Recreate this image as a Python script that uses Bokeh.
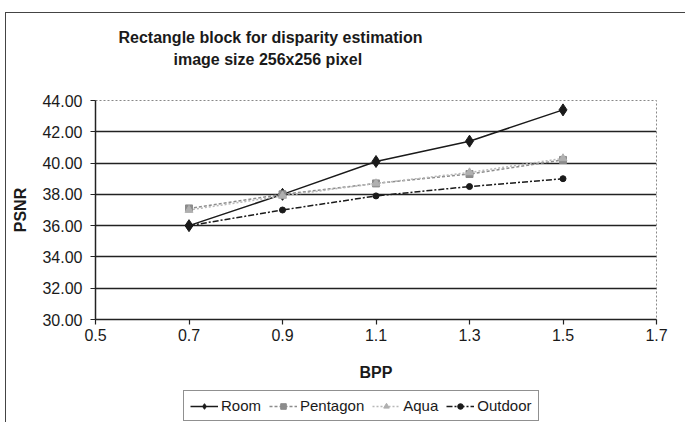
from bokeh.plotting import figure
from bokeh.layouts import column
from bokeh.models import Range1d, FixedTicker, Legend, LegendItem, NumeralTickFormatter, Title
from bokeh.embed import file_html
from bokeh.resources import INLINE

# ---- data ----
bpp = [0.7, 0.9, 1.1, 1.3, 1.5]
room = [36.0, 38.0, 40.1, 41.4, 43.4]
pentagon = [37.1, 38.0, 38.7, 39.3, 40.2]
aqua = [37.0, 37.9, 38.7, 39.4, 40.3]
outdoor = [36.0, 37.0, 37.9, 38.5, 39.0]
series_names = ["Room", "Pentagon", "Aqua", "Outdoor"]
x_ticks = [0.5, 0.7, 0.9, 1.1, 1.3, 1.5, 1.7]
y_ticks = [30, 32, 34, 36, 38, 40, 42, 44]
title_lines = ["Rectangle block for disparity estimation", "image size 256x256 pixel"]

FONT = "Liberation Sans"
INK = "#1a1a1a"

styles = [
    dict(line=dict(line_color=INK, line_width=1.5),
         mark=dict(marker="diamond", size=12, color=INK)),
    dict(line=dict(line_color="#8c8c8c", line_width=1.5, line_dash="3 2"),
         mark=dict(marker="square", size=7, color="#8c8c8c")),
    dict(line=dict(line_color="#b8b8b8", line_width=1.5, line_dash="2 2"),
         mark=dict(marker="triangle", size=8, color="#b0b0b0")),
    dict(line=dict(line_color=INK, line_width=1.5, line_dash="6 2 2 2"),
         mark=dict(marker="circle", size=6, color=INK)),
]
all_series = [room, pentagon, aqua, outdoor]

# ---- main chart ----
p = figure(width=685, height=389, output_backend="svg", toolbar_location=None,
           x_range=Range1d(0.5, 1.7), y_range=Range1d(30, 44),
           min_border_left=95, min_border_right=29, min_border_top=100, min_border_bottom=70)
p.title = None
p.background_fill_color = "white"
p.border_fill_alpha = 0
p.outline_line_color = "#888888"
p.outline_line_dash = "2 2"
p.outline_line_width = 1

p.xaxis.ticker = FixedTicker(ticks=x_ticks)
p.yaxis.ticker = FixedTicker(ticks=y_ticks)
p.yaxis.formatter = NumeralTickFormatter(format="0.00")
for ax in (p.xaxis, p.yaxis):
    ax.axis_line_color = "#222222"
    ax.axis_line_width = 1.5
    ax.major_tick_line_color = "#222222"
    ax.major_tick_line_width = 1.2
    ax.major_tick_in = 0
    ax.major_tick_out = 5
    ax.minor_tick_line_color = None
    ax.major_label_text_font = FONT
    ax.major_label_text_font_size = "16px"
    ax.major_label_text_color = INK
    ax.axis_label_text_font = FONT
    ax.axis_label_text_font_size = "16px"
    ax.axis_label_text_font_style = "bold"
    ax.axis_label_text_color = INK
p.yaxis.major_label_standoff = 8
p.xaxis.major_label_standoff = 4
p.yaxis.axis_label = "PSNR"
p.xaxis.axis_label = "BPP"
p.yaxis.axis_label_standoff = 10
p.xaxis.axis_label_standoff = 20

p.xgrid.grid_line_color = None
p.ygrid.ticker = FixedTicker(ticks=y_ticks[1:-1])
p.ygrid.grid_line_color = "#222222"
p.ygrid.grid_line_width = 1.5

for vals, st in zip(all_series, styles):
    p.line(bpp, vals, **st["line"])
    p.scatter(bpp, vals, **st["mark"])

# title: spacer nearest the frame, then the two lines
spacer = Title(text=" ", text_font_size="1px", standoff=28)
t2 = Title(text=title_lines[1], align="left", offset=78, standoff=4,
           text_font=FONT, text_font_size="16px", text_font_style="bold", text_color=INK)
t1 = Title(text=title_lines[0], align="left", offset=23, standoff=1,
           text_font=FONT, text_font_size="16px", text_font_style="bold", text_color=INK)
p.add_layout(spacer, "above")
p.add_layout(t2, "above")
p.add_layout(t1, "above")

# ---- legend strip under the chart (series drawn off-range, only the legend shows) ----
lg = figure(width=685, height=33, output_backend="svg", toolbar_location=None,
            x_axis_type=None, y_axis_type=None, min_border=0,
            x_range=Range1d(0.5, 1.7), y_range=Range1d(0, 1))
lg.title = None
lg.grid.grid_line_color = None
lg.outline_line_color = None
lg.background_fill_alpha = 0
lg.border_fill_alpha = 0
items = []
for name, vals, st in zip(series_names, all_series, styles):
    rl = lg.line(bpp, vals, **st["line"])
    rm = lg.scatter(bpp, vals, **st["mark"])
    items.append(LegendItem(label=name, renderers=[rl, rm]))
legend = Legend(items=items, orientation="horizontal", location=(88, 1))
legend.glyph_width = 28
legend.glyph_height = 14
legend.label_standoff = 3
legend.spacing = 8
legend.padding = 6
legend.margin = 0
legend.label_text_font = FONT
legend.label_text_font_size = "15px"
legend.label_text_color = INK
legend.border_line_color = "#222222"
legend.border_line_width = 1.2
legend.background_fill_color = "white"
legend.background_fill_alpha = 1
lg.add_layout(legend, "center")

page = column(p, lg, spacing=0)
# outer chart border lines (left and top) as in the scanned reference
page.styles = {"background": "linear-gradient(#444,#444) 5px 12px / 1px 420px no-repeat, "
                             "linear-gradient(#444,#444) 5px 12px / 690px 1px no-repeat, white"}

open("out.html", "w").write(file_html(page, INLINE))
